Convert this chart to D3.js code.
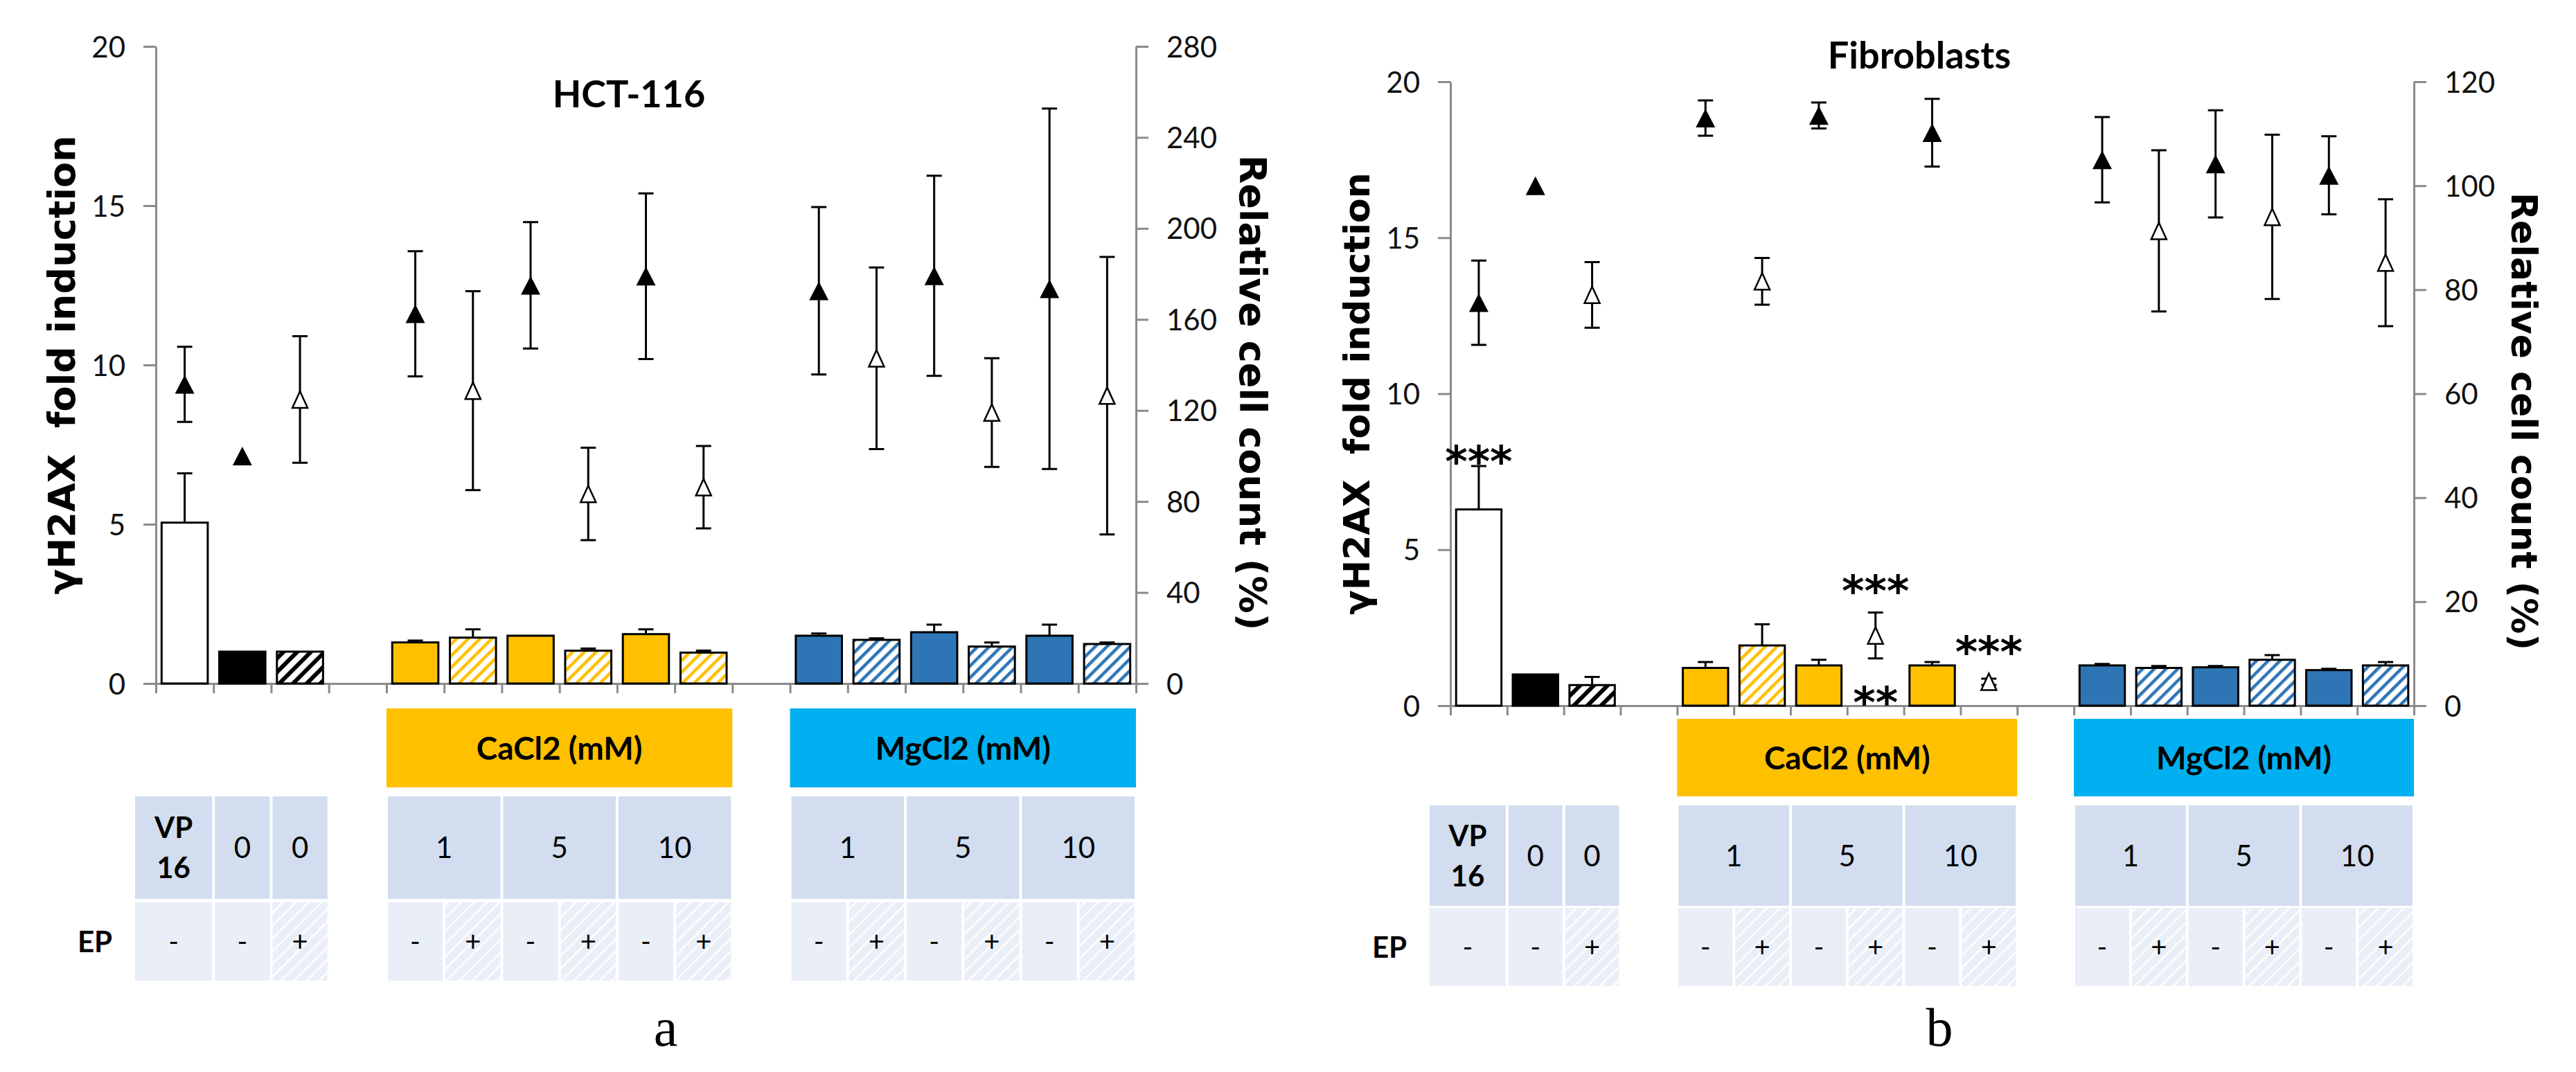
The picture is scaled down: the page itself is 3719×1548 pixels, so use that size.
<!DOCTYPE html>
<html lang="en">
<head>
<meta charset="UTF-8">
<title>γH2AX fold induction and relative cell count</title>
<script src="https://d3js.org/d3.v7.min.js"></script>
<style>
  body { margin: 0; background: #fff; }
  svg { display: block; }
  .tick text { font-family: Lato, "Open Sans", sans-serif; font-size: 42px; fill: #111; }
  .axis path, .axis line { stroke: #8a8a8a; stroke-width: 3; }
</style>
</head>
<body>
<svg width="3719" height="1548"></svg>
<script>
// 17 slots: VP16, control -, control +, gap, CaCl2 1/5/10 (-/+), gap, MgCl2 1/5/10 (-/+)
const slots = ["VP16", "0-", "0+", "gapCa", "Ca1-", "Ca1+", "Ca5-", "Ca5+", "Ca10-", "Ca10+",
               "gapMg", "Mg1-", "Mg1+", "Mg5-", "Mg5+", "Mg10-", "Mg10+"];
const barStyle = ["white", "black", "blackHatch", null, "ca", "caHatch", "ca", "caHatch", "ca", "caHatch",
                  null, "mg", "mgHatch", "mg", "mgHatch", "mg", "mgHatch"];
const epSigns = ["-", "-", "+", "", "-", "+", "-", "+", "-", "+", "", "-", "+", "-", "+", "-", "+"];

// concentration row: label, first slot, number of slots
const concCells = [
  { label: ["VP", "16"], from: 0, span: 1, bold: true },
  { label: ["0"], from: 1, span: 1 },
  { label: ["0"], from: 2, span: 1 },
  { label: ["1"], from: 4, span: 2 },
  { label: ["5"], from: 6, span: 2 },
  { label: ["10"], from: 8, span: 2 },
  { label: ["1"], from: 11, span: 2 },
  { label: ["5"], from: 13, span: 2 },
  { label: ["10"], from: 15, span: 2 }
];
const saltHeaders = [
  { label: "CaCl2 (mM)", from: 4, span: 6, color: "#ffc000" },
  { label: "MgCl2 (mM)", from: 11, span: 6, color: "#00b0f0" }
];

const leftTicks = [0, 5, 10, 15, 20];
const hctRightTicks = [0, 40, 80, 120, 160, 200, 240, 280];
const fibRightTicks = [0, 20, 40, 60, 80, 100, 120];

// HCT-116
const hctBar     = [5.05, 1.0, 1.0, null, 1.29, 1.44, 1.50, 1.03, 1.55, 0.97, null, 1.50, 1.37, 1.61, 1.16, 1.50, 1.24];
const hctBarErr  = [1.55, 0, 0, null, 0.06, 0.26, 0, 0.07, 0.15, 0.06, null, 0.07, 0.05, 0.24, 0.13, 0.35, 0.05];
const hctCount   = [131.5, 100, 124.8, null, 162.5, 128.7, 175, 83.3, 179, 86.3, null, 172.6, 142.9, 179.2, 119.1, 173.5, 126.5];
const hctCountErr = [16.5, 0, 27.8, null, 27.5, 43.7, 27.8, 20.3, 36.4, 18.1, null, 36.8, 39.9, 44, 23.9, 79.2, 61];

// Fibroblasts
const fibBar     = [6.29, 1.0, 0.66, null, 1.21, 1.93, 1.29, null, 1.29, null, null, 1.29, 1.21, 1.23, 1.47, 1.14, 1.29];
const fibBarErr  = [1.39, 0, 0.26, null, 0.19, 0.68, 0.18, null, 0.11, null, null, 0.05, 0.06, 0.04, 0.15, 0.04, 0.11];
const fibCount   = [77.5, 100, 79, null, 113, 81.6, 113.5, 13.5, 110.2, 4.6, null, 105, 91.3, 104.2, 94, 102, 85.2];
const fibCountErr = [8.1, 0, 6.3, null, 3.4, 4.5, 2.5, 4.4, 6.5, 0.6, null, 8.2, 15.5, 10.3, 15.8, 7.5, 12.2];
// significance marks: slot, text, height on the left axis
const fibStars = [
  { slot: 0, text: "***", y: 8.1 },
  { slot: 7, text: "***", y: 3.95 },
  { slot: 7, text: "**", y: 0.37 },
  { slot: 9, text: "***", y: 2.0 }
];

const panels = [
  { tag: "a", title: "HCT-116", bar: hctBar, barErr: hctBarErr, count: hctCount, countErr: hctCountErr,
    rightTicks: hctRightTicks, stars: [],
    x0: 225, x1: 1640, yTop: 67, yBot: 987, titleX: 908, titleY: 155,
    header: [1023, 1137], row1: [1150, 1298], row2: [1303, 1416],
    rightLabelDx: 169, labelSize: 54, tagX: 961, tagY: 1510 },
  { tag: "b", title: "Fibroblasts", bar: fibBar, barErr: fibBarErr, count: fibCount, countErr: fibCountErr,
    rightTicks: fibRightTicks, stars: fibStars,
    x0: 2094, x1: 3485, yTop: 118, yBot: 1019, titleX: 2771, titleY: 99,
    header: [1038, 1150], row1: [1163, 1308], row2: [1311, 1424],
    rightLabelDx: 160, labelSize: 52, tagX: 2800, tagY: 1510 }
];

const svg = d3.select("svg");
svg.append("rect").attr("width", 3719).attr("height", 1548).attr("fill", "#fff");

// hatch patterns
const defs = svg.append("defs");
function hatch(id, color, period, width, bg) {
  const p = defs.append("pattern").attr("id", id)
    .attr("patternUnits", "userSpaceOnUse")
    .attr("width", period).attr("height", period)
    .attr("patternTransform", "rotate(45)");
  p.append("rect").attr("width", period).attr("height", period).attr("fill", bg);
  p.append("rect").attr("width", width).attr("height", period).attr("fill", color);
}
hatch("blackHatch", "#000", 14, 6, "#fff");
hatch("caHatch", "#ffc000", 12, 4.5, "#fff");
hatch("mgHatch", "#2e75b6", 12, 4.5, "#fff");
hatch("epHatch", "#fff", 13, 2.5, "#e9eef7");

const fills = {
  white: "#fff", black: "#000", blackHatch: "url(#blackHatch)",
  ca: "#ffc000", caHatch: "url(#caHatch)", mg: "#2e75b6", mgHatch: "url(#mgHatch)"
};

function triangle(w, h) {
  return `M0,${-h / 2}L${w / 2},${h / 2}L${-w / 2},${h / 2}Z`;
}

panels.forEach(p => {
  const g = svg.append("g");
  const x = d3.scaleBand().domain(d3.range(slots.length)).range([p.x0, p.x1])
    .paddingInner(0.2).paddingOuter(0.1);
  const step = x.step();
  const slotX = d3.scaleLinear().domain([0, slots.length]).range([p.x0, p.x1]);
  const yL = d3.scaleLinear().domain([0, 20]).range([p.yBot, p.yTop]);
  const rMax = p.rightTicks[p.rightTicks.length - 1];
  const yR = d3.scaleLinear().domain([0, rMax]).range([p.yBot, p.yTop]);

  // axes
  g.append("g").attr("class", "axis").attr("transform", `translate(${p.x0},0)`)
    .call(d3.axisLeft(yL).tickValues(leftTicks).tickSize(18).tickSizeOuter(0).tickPadding(26))
    .call(a => a.selectAll("text").attr("dy", "0.36em"));
  g.append("g").attr("class", "axis").attr("transform", `translate(${p.x1},0)`)
    .call(d3.axisRight(yR).tickValues(p.rightTicks).tickSize(18).tickSizeOuter(0).tickPadding(26))
    .call(a => a.selectAll("text").attr("dy", "0.36em"));
  g.append("g").attr("class", "axis").attr("transform", `translate(0,${p.yBot})`)
    .call(d3.axisBottom(slotX).tickValues(d3.range(slots.length + 1)).tickSize(14).tickSizeOuter(0).tickFormat(""));

  // bars
  const barData = p.bar.map((v, i) => ({ i, v, e: p.barErr[i], s: barStyle[i] })).filter(d => d.v != null);
  g.selectAll(".bar").data(barData).join("rect").attr("class", "bar")
    .attr("x", d => x(d.i)).attr("width", x.bandwidth())
    .attr("y", d => yL(d.v)).attr("height", d => yL(0) - yL(d.v))
    .attr("fill", d => fills[d.s]).attr("stroke", "#000").attr("stroke-width", 3);
  const barErr = barData.filter(d => d.e > 0);
  g.selectAll(".berr").data(barErr).join("path").attr("class", "berr")
    .attr("d", d => {
      const cx = x(d.i) + x.bandwidth() / 2, y0 = yL(d.v), y1 = yL(d.v + d.e);
      return `M${cx},${y0}V${y1}M${cx - 11},${y1}H${cx + 11}`;
    })
    .attr("stroke", "#000").attr("stroke-width", 3).attr("fill", "none");

  // relative cell count markers
  const pts = p.count.map((v, i) => ({ i, v, e: p.countErr[i], open: epSigns[i] === "+" })).filter(d => d.v != null);
  g.selectAll(".cerr").data(pts.filter(d => d.e > 0)).join("path").attr("class", "cerr")
    .attr("d", d => {
      const cx = x(d.i) + x.bandwidth() / 2, ya = yR(d.v + d.e), yb = yR(d.v - d.e);
      return `M${cx},${ya}V${yb}M${cx - 11},${ya}H${cx + 11}M${cx - 11},${yb}H${cx + 11}`;
    })
    .attr("stroke", "#000").attr("stroke-width", 3).attr("fill", "none");
  g.selectAll(".mark").data(pts).join("path").attr("class", "mark")
    .attr("transform", d => `translate(${x(d.i) + x.bandwidth() / 2},${yR(d.v)})`)
    .attr("d", d => d.open ? triangle(22, 24) : triangle(28, 27))
    .attr("fill", d => d.open ? "#fff" : "#000")
    .attr("stroke", "#000").attr("stroke-width", d => d.open ? 2.5 : 0);

  // significance marks
  g.selectAll(".star").data(p.stars).join("text").attr("class", "star")
    .attr("x", d => x(d.slot) + x.bandwidth() / 2)
    .attr("y", d => yL(d.y) + 34)
    .attr("text-anchor", "middle")
    .style("font-family", "'DejaVu Sans', sans-serif").style("font-weight", "bold").style("font-size", "62px")
    .text(d => d.text);

  // titles
  g.append("text").attr("x", p.titleX).attr("y", p.titleY).attr("text-anchor", "middle")
    .style("font-family", "Lato, sans-serif").style("font-weight", "bold").style("font-size", "54px")
    .text(p.title);
  const midY = (p.yTop + p.yBot) / 2;
  g.append("text").attr("transform", `translate(${p.x0 - 136},${midY}) rotate(-90)`)
    .attr("text-anchor", "middle").attr("dy", "0.36em")
    .style("font-family", "'DejaVu Sans', sans-serif").style("font-weight", "bold")
    .style("font-size", p.labelSize + "px").style("white-space", "pre")
    .text("γH2AX  fold induction");
  g.append("text").attr("transform", `translate(${p.x1 + p.rightLabelDx},${midY + 40}) rotate(90)`)
    .attr("text-anchor", "middle").attr("dy", "0.36em")
    .style("font-family", "'DejaVu Sans', sans-serif").style("font-weight", "bold")
    .style("font-size", p.labelSize + "px")
    .text("Relative cell count (%)");

  // table under the chart
  const cellL = i => (i === 0 ? p.x0 - 30 : slotX(i) + 2);
  const cellR = i => (slotX(i) - 2);
  const t = g.append("g");
  saltHeaders.forEach(h => {
    const l = slotX(h.from), r = slotX(h.from + h.span);
    t.append("rect").attr("x", l).attr("y", p.header[0]).attr("width", r - l)
      .attr("height", p.header[1] - p.header[0]).attr("fill", h.color);
    t.append("text").attr("x", (l + r) / 2).attr("y", (p.header[0] + p.header[1]) / 2)
      .attr("dy", "0.36em").attr("text-anchor", "middle")
      .style("font-family", "Lato, sans-serif").style("font-weight", "bold").style("font-size", "46px")
      .text(h.label);
  });
  concCells.forEach(c => {
    const l = cellL(c.from), r = cellR(c.from + c.span);
    t.append("rect").attr("x", l).attr("y", p.row1[0]).attr("width", r - l)
      .attr("height", p.row1[1] - p.row1[0]).attr("fill", "#d2ddef");
    const cy = (p.row1[0] + p.row1[1]) / 2;
    c.label.forEach((s, k) => {
      t.append("text").attr("x", (l + r) / 2)
        .attr("y", cy + (k - (c.label.length - 1) / 2) * 58)
        .attr("dy", "0.36em").attr("text-anchor", "middle")
        .style("font-family", "Lato, sans-serif").style("font-size", "42px")
        .style("font-weight", c.bold ? "bold" : "normal")
        .text(s);
    });
  });
  epSigns.forEach((s, i) => {
    if (!s) return;
    const l = cellL(i), r = cellR(i + 1);
    t.append("rect").attr("x", l).attr("y", p.row2[0]).attr("width", r - l)
      .attr("height", p.row2[1] - p.row2[0])
      .attr("fill", s === "+" ? "url(#epHatch)" : "#e9eef7");
    t.append("text").attr("x", (l + r) / 2).attr("y", (p.row2[0] + p.row2[1]) / 2)
      .attr("dy", "0.36em").attr("text-anchor", "middle")
      .style("font-family", "Lato, sans-serif").style("font-size", "40px")
      .text(s);
  });
  t.append("text").attr("x", p.x0 - 88).attr("y", (p.row2[0] + p.row2[1]) / 2)
    .attr("dy", "0.36em").attr("text-anchor", "middle")
    .style("font-family", "Lato, sans-serif").style("font-weight", "bold").style("font-size", "42px")
    .text("EP");

  svg.append("text").attr("x", p.tagX).attr("y", p.tagY).attr("text-anchor", "middle")
    .style("font-family", "'Liberation Serif', serif").style("font-size", "78px")
    .text(p.tag);
});
</script>
</body>
</html>
